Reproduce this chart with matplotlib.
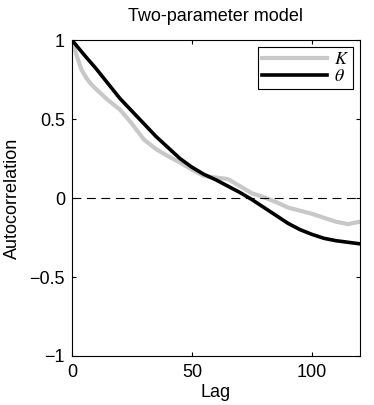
import matplotlib.pyplot as plt

plt.rcParams['font.family'] = ['Liberation Sans', 'DejaVu Sans']
plt.rcParams['mathtext.fontset'] = 'stix'

# Autocorrelation
lags = [0, 2, 4, 6, 8, 10, 15, 20, 25, 30, 35, 40, 45, 50, 55, 60, 65, 70,
        75, 80, 85, 90, 95, 100, 105, 110, 115, 120]
acf_K = [1.0, 0.90, 0.81, 0.76, 0.72, 0.69, 0.62, 0.56, 0.47, 0.37, 0.31, 0.265, 0.225, 0.18,
         0.14, 0.13, 0.12, 0.075, 0.03, 0.005, -0.025, -0.06, -0.08, -0.10, -0.125, -0.15,
         -0.165, -0.15]
acf_theta = [1.0, 0.963, 0.926, 0.89, 0.855, 0.82, 0.725, 0.63, 0.55, 0.47, 0.39, 0.32, 0.25,
             0.195, 0.15, 0.115, 0.075, 0.035, -0.01, -0.06, -0.11, -0.16, -0.20, -0.23,
             -0.255, -0.27, -0.28, -0.29]

fig = plt.figure(figsize=(3.74, 4.05), dpi=100)
ax = fig.add_axes([0.1925, 0.121, 0.77, 0.78])

ax.plot(lags, acf_K, color='#c8c8c8', lw=3, label='$K$')
ax.plot(lags, acf_theta, color='black', lw=2.6, label=r'$\theta$')
ax.axhline(0, color='black', lw=0.8, ls=(0, (8, 5)))

ax.set_xlim(0, 120)
ax.set_ylim(-1, 1)
ax.set_xticks([0, 50, 100])
ax.set_yticks([-1, -0.5, 0, 0.5, 1])
ax.set_yticklabels(['\u22121', '\u22120.5', '0', '0.5', '1'])
ax.tick_params(direction='in', top=True, right=True, labelsize=13, length=3, width=0.8)
ax.tick_params(axis='x', pad=6)
ax.tick_params(axis='y', pad=5)
for s in ax.spines.values():
    s.set_linewidth(0.8)

ax.set_title('Two-parameter model', fontsize=13, pad=14)
ax.set_xlabel('Lag', fontsize=13, labelpad=2)
ax.set_ylabel('Autocorrelation', fontsize=13, labelpad=6)

leg = ax.legend(loc='upper right', fontsize=13, fancybox=False, edgecolor='black',
                framealpha=1, borderaxespad=0.4, handlelength=3.6, borderpad=0.2,
                labelspacing=0.0, handletextpad=0.4)
leg.get_frame().set_linewidth(0.8)

fig.savefig('out.png', dpi=100)
